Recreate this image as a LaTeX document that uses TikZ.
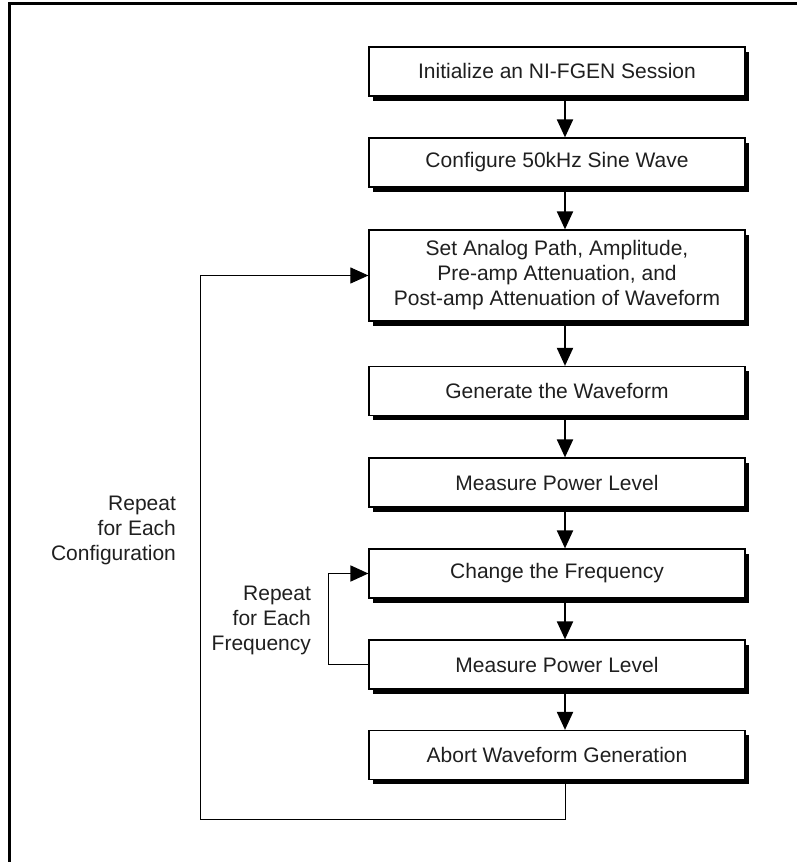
\documentclass[tikz,border=0pt]{standalone}
\usepackage{fontspec}
\setmainfont{Liberation Sans}
\usetikzlibrary{arrows.meta,shadows}
\tikzstyle{box}=[rectangle, fill=white, draw=black, line width=0.6pt, minimum width=188pt, minimum height=24.5pt, inner sep=0pt, align=center, anchor=center, text=black!88, font=\fontsize{10.5}{12.5}\selectfont, drop shadow={shadow xshift=2pt, shadow yshift=-2.5pt, fill=black, opacity=1}]
\tikzstyle{annot}=[align=right, anchor=east, text=black!88, font=\fontsize{10.5}{12.5}\selectfont]
\tikzstyle{flow}=[line width=1pt, -{Triangle[length=9pt,width=8pt]}]
\tikzstyle{loopback}=[line width=0.5pt, -{Triangle[length=9pt,width=8pt]}]

\begin{document}
\begin{tikzpicture}[x=0.5pt, y=0.5pt]
	\useasboundingbox (0,0) rectangle (797,862);
	\draw[line width=1.5pt] (9,0) |- (797,858);

	\node[box](init) at (557,790.5){Initialize an NI-FGEN Session};
	\node[box, below of=init, node distance=45.5pt](config){Configure 50kHz Sine Wave};
	\node[box, below of=config, node distance=56.5pt, minimum height=45.5pt](setpath){Set Analog Path, Amplitude,\\Pre-amp Attenuation, and\\Post-amp Attenuation of Waveform};
	\node[box, below of=setpath, node distance=57.75pt](generate){Generate the Waveform};
	\node[box, below of=generate, node distance=45.75pt](measurea){Measure Power Level};
	\node[box, below of=measurea, node distance=45.5pt](change){Change the Frequency};
	\node[box, below of=change, node distance=45.5pt](measureb){Measure Power Level};
	\node[box, below of=measureb, node distance=45.25pt](abort){Abort Waveform Generation};

	\foreach \a/\b in {init/config, config/setpath, setpath/generate, generate/measurea, measurea/change, change/measureb, measureb/abort}
		\draw[flow] ([xshift=4pt]\a.south) -- ([xshift=4pt]\b.north);

	% loops
	\coordinate (cfgturn) at (200,42);
	\draw[loopback] ([xshift=4pt]abort.south) |- (cfgturn) |- (setpath.west);
	\draw[loopback, line width=0.9pt] (measureb.west) -- ++(-40,0) |- (change.west);

	\node[annot](cfglabel) at (183,332){Repeat\\for Each\\Configuration};
	\node[annot](freqlabel) at (318,242){Repeat\\for Each\\Frequency};

\end{tikzpicture}
\end{document}
